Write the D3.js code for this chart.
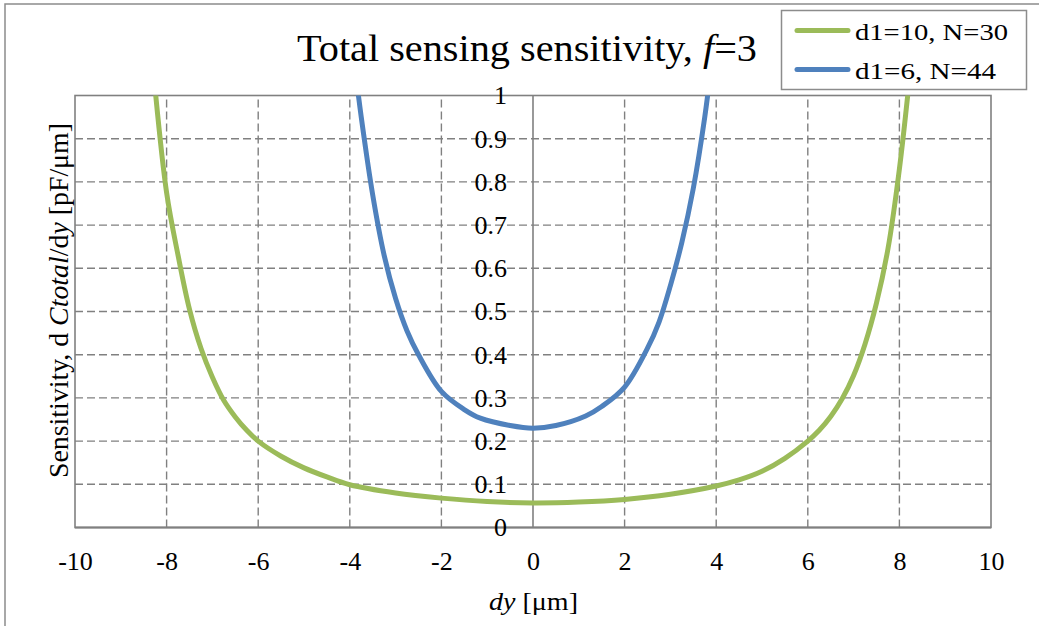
<!DOCTYPE html>
<html>
<head>
<meta charset="utf-8">
<script src="https://cdnjs.cloudflare.com/ajax/libs/d3/7.8.5/d3.min.js"></script>
<style>
  html, body { margin: 0; padding: 0; background: #fff; }
  svg { display: block; }
  text { font-family: "Liberation Serif", "DejaVu Serif", serif; fill: #000; }
</style>
</head>
<body>
<script>
// ---- data ----
const greenX = [-8.3, -8.0, -7.75, -7.5, -7.25, -7.0, -6.75, -6.5, -6.25, -6.0, -5.5, -5.0, -4.5, -4.0, -3.0, -2.0, -1.0, 0, 1.0, 2.0, 3.0, 4.0, 4.5, 5.0, 5.5, 6.0, 6.25, 6.5, 6.75, 7.0, 7.25, 7.5, 7.75, 8.0, 8.25];
const greenY = [1.07, 0.775, 0.63, 0.505, 0.415, 0.348, 0.294, 0.256, 0.225, 0.2, 0.165, 0.138, 0.117, 0.099, 0.08, 0.068, 0.06, 0.057, 0.059, 0.065, 0.077, 0.096, 0.11, 0.13, 0.16, 0.2, 0.225, 0.257, 0.298, 0.352, 0.425, 0.52, 0.645, 0.83, 1.07];
const blueX = [-3.87, -3.75, -3.5, -3.25, -3.0, -2.75, -2.5, -2.0, -1.5, -1.15, -0.5, 0, 0.5, 1.15, 1.5, 2.0, 2.5, 2.75, 3.0, 3.25, 3.5, 3.75, 3.87];
const blueY = [1.05, 0.95, 0.77, 0.63, 0.53, 0.455, 0.40, 0.315, 0.273, 0.253, 0.236, 0.23, 0.236, 0.258, 0.28, 0.325, 0.415, 0.475, 0.56, 0.66, 0.785, 0.95, 1.05];
const seriesNames = ["d1=10, N=30", "d1=6, N=44"];
const seriesColors = ["#9BBB59", "#4F81BD"];
const xTicks = [-10, -8, -6, -4, -2, 0, 2, 4, 6, 8, 10];
const yTicks = [0, 0.1, 0.2, 0.3, 0.4, 0.5, 0.6, 0.7, 0.8, 0.9, 1];

const W = 1039, H = 626;
const svg = d3.select("body").append("svg").attr("width", W).attr("height", H);

// outer chart frame
svg.append("rect").attr("x", 5).attr("y", 4).attr("width", W + 20).attr("height", H + 20)
  .attr("fill", "none").attr("stroke", "#8c8c8c").attr("stroke-width", 1.5);

const x = d3.scaleLinear().domain([-10, 10]).range([75, 991]);
const y = d3.scaleLinear().domain([0, 1]).range([527.5, 95.5]);
const gridColor = "#808080";

// grid lines (dashed)
svg.append("g").selectAll("line").data(yTicks.filter(d => d > 0 && d < 1)).join("line")
  .attr("x1", x(-10)).attr("x2", x(10)).attr("y1", d => y(d)).attr("y2", d => y(d))
  .attr("stroke", gridColor).attr("stroke-width", 1.4).attr("stroke-dasharray", "8,4");
svg.append("g").selectAll("line").data(xTicks.filter(d => d !== 0 && Math.abs(d) < 10)).join("line")
  .attr("x1", d => x(d)).attr("x2", d => x(d)).attr("y1", y(0)).attr("y2", y(1))
  .attr("stroke", gridColor).attr("stroke-width", 1.4).attr("stroke-dasharray", "8,4");

// plot border
svg.append("rect").attr("x", x(-10)).attr("y", y(1)).attr("width", x(10) - x(-10)).attr("height", y(0) - y(1))
  .attr("fill", "none").attr("stroke", gridColor).attr("stroke-width", 1.6);
// y axis at x=0
svg.append("line").attr("x1", x(0)).attr("x2", x(0)).attr("y1", y(0)).attr("y2", y(1))
  .attr("stroke", gridColor).attr("stroke-width", 1.6);
// x axis line at y=0
svg.append("line").attr("x1", x(-10)).attr("x2", x(10)).attr("y1", y(0)).attr("y2", y(0))
  .attr("stroke", gridColor).attr("stroke-width", 2);

// axes labels via d3 axes
const xAxis = svg.append("g").attr("transform", `translate(0,${y(0)})`)
  .call(d3.axisBottom(x).tickValues(xTicks).tickFormat(d => String(d)).tickSize(0).tickPadding(24));
xAxis.select(".domain").remove();
xAxis.selectAll("text").attr("font-size", 26).attr("font-family", "Liberation Serif").attr("fill", "#000");

const yAxis = svg.append("g").attr("transform", `translate(${x(0)},0)`)
  .call(d3.axisLeft(y).tickValues(yTicks).tickFormat(d => String(d)).tickSize(0).tickPadding(26));
yAxis.select(".domain").remove();
yAxis.selectAll("text").attr("font-size", 26).attr("font-family", "Liberation Serif").attr("fill", "#000");

// clip
svg.append("clipPath").attr("id", "plotclip").append("rect")
  .attr("x", x(-10)).attr("y", y(1)).attr("width", x(10) - x(-10)).attr("height", y(0) - y(1));

const line = d3.line().x(d => x(d[0])).y(d => y(d[1])).curve(d3.curveCatmullRom.alpha(0.5));
const gData = greenX.map((v, i) => [v, greenY[i]]);
const bData = blueX.map((v, i) => [v, blueY[i]]);
const curves = svg.append("g").attr("clip-path", "url(#plotclip)");
curves.append("path").datum(gData).attr("d", line).attr("fill", "none")
  .attr("stroke", seriesColors[0]).attr("stroke-width", 5).attr("stroke-linejoin", "round");
curves.append("path").datum(bData).attr("d", line).attr("fill", "none")
  .attr("stroke", seriesColors[1]).attr("stroke-width", 5).attr("stroke-linejoin", "round");

// title
const title = svg.append("text").attr("x", 297).attr("y", 61).attr("font-size", 38)
  .attr("textLength", 460).attr("lengthAdjust", "spacingAndGlyphs");
title.append("tspan").text("Total sensing sensitivity, ");
title.append("tspan").attr("font-style", "italic").text("f");
title.append("tspan").text("=3");

// y axis title
const yt = svg.append("text").attr("transform", "translate(68,478) rotate(-90)")
  .attr("x", 0).attr("y", 0).attr("font-size", 27)
  .attr("textLength", 355).attr("lengthAdjust", "spacingAndGlyphs");
yt.append("tspan").text("Sensitivity, d ");
yt.append("tspan").attr("font-style", "italic").text("Ctotal");
yt.append("tspan").text("/d");
yt.append("tspan").attr("font-style", "italic").text("y");
yt.append("tspan").text(" [pF/μm]");

// x axis title
const xt = svg.append("text").attr("x", 489).attr("y", 610).attr("font-size", 26)
  .attr("textLength", 89).attr("lengthAdjust", "spacingAndGlyphs");
xt.append("tspan").attr("font-style", "italic").text("dy");
xt.append("tspan").text(" [μm]");

// legend
svg.append("rect").attr("x", 781.5).attr("y", 10.5).attr("width", 245).attr("height", 79)
  .attr("fill", "#fff").attr("stroke", "#8c8c8c").attr("stroke-width", 1.5);
const legY = [30.5, 69.5];
const legLen = [153, 141];
seriesNames.forEach((name, i) => {
  svg.append("line").attr("x1", 797).attr("x2", 848).attr("y1", legY[i]).attr("y2", legY[i])
    .attr("stroke", seriesColors[i]).attr("stroke-width", 5).attr("stroke-linecap", "round");
  svg.append("text").attr("x", 855).attr("y", legY[i] + 9).attr("font-size", 23)
    .attr("textLength", legLen[i]).attr("lengthAdjust", "spacingAndGlyphs").text(name);
});
</script>
</body>
</html>
